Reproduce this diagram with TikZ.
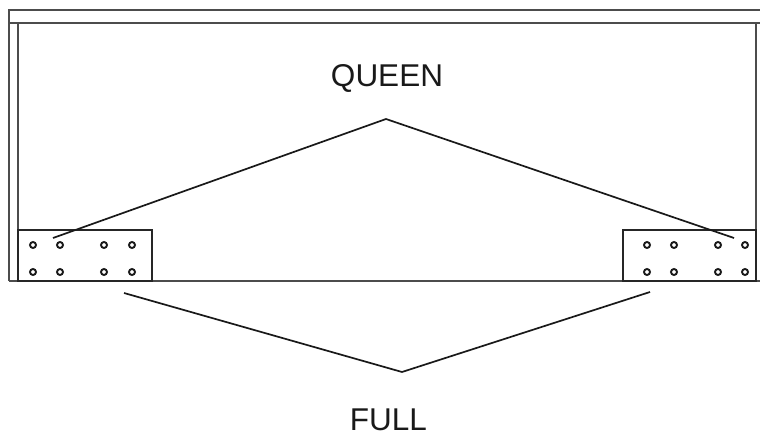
\documentclass[tikz,border=0pt]{standalone}
\usepackage{fontspec}
\setmainfont{Liberation Sans}
\tikzset{
  ink/.style={draw=black!85!white,line width=2pt},
  thin ink/.style={draw=black!70!white,line width=2pt},
  hole/.style={draw=black!90!white,line width=1.9pt,fill=white},
  leader/.style={draw=black!90!white,line width=1.7pt},
  lbl/.style={inner sep=0pt,anchor=base,font=\fontsize{31.5}{36}\selectfont,text=black!90!white}
}
\begin{document}
\begin{tikzpicture}[x=1pt,y=-1pt]
\useasboundingbox (0,0) rectangle (760,435);
% frame
\draw[thin ink] (760,10) -- (9,10) -- (9,281);
\draw[thin ink] (9,23) -- (760,23);
\draw[thin ink] (18,23) -- (18,281);
\draw[thin ink] (756,23) -- (756,281);
\draw[thin ink] (9,281) -- (760,281);
% plates
\draw[ink] (18,281) -- (18,230) -- (152,230) -- (152,281) -- cycle;
\draw[ink] (623,281) -- (623,230) -- (756,230) -- (756,281) -- cycle;
% holes
\foreach \x in {33,60,104,132,647,674,718,745}
  \foreach \y in {245,272}
    \draw[hole] (\x,\y) circle (3);
% labels
\node[lbl] (queen) at (387,87) {QUEEN};
\node[lbl] (full) at (388.5,430) {FULL};
% leaders
\coordinate (qa) at (53,238);
\coordinate (qb) at (386,119);
\coordinate (qc) at (734,238);
\coordinate (fa) at (124,293);
\coordinate (fb) at (402,372);
\coordinate (fc) at (650,292);
\draw[leader] (qa) -- (qb) -- (qc);
\draw[leader] (fa) -- (fb) -- (fc);
\end{tikzpicture}
\end{document}
